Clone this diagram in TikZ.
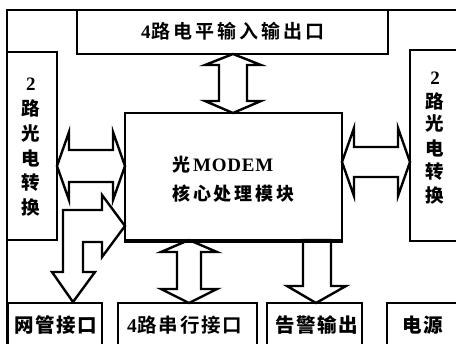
\documentclass[tikz,border=0pt]{standalone}
\usepackage{fontspec}
\setmainfont{Liberation Serif}
\newfontfamily\cjkA[LetterSpace=16]{Noto Sans CJK SC Black}
\newfontfamily\cjkB[LetterSpace=8]{Noto Sans CJK SC Black}
\newfontfamily\cjkV{Noto Sans CJK SC Black}
\usetikzlibrary{fit}
\begin{document}
\begin{tikzpicture}[x=1pt,y=-1pt,
  box/.style={draw,line width=2.6pt,inner sep=0pt},
  blk/.style={draw,line width=2.4pt,fill=white,line join=miter,miter limit=10},
  lbl/.style={inner sep=0pt,anchor=west},
  vch/.style={inner sep=0pt,font=\fontsize{18.5}{18.5}\selectfont\cjkV},
  vnum/.style={inner sep=0pt,font=\fontsize{19}{19}\selectfont\bfseries}]
\useasboundingbox (0,0) rectangle (456,344);
\fill[white] (0,0) rectangle (456,344);
% outer frame
\draw[line width=2.6pt] (7,352) -- (7,10) -- (462,10);
% boxes
\node[box,fit={(77,10) (388,54)}] (top) {};
\node[box,fit={(7,52) (57,240)}] (left) {};
\node[box,fit={(410,50) (470,241)}] (right) {};
\node[box,fit={(125,113) (342,240)}] (core) {};
\node[box,fit={(8,303) (102,360)}] (nm) {};
\node[box,fit={(118,303) (257,360)}] (ser) {};
\node[box,fit={(267,303) (362,360)}] (alm) {};
\node[box,fit={(387,303) (470,360)}] (pwr) {};
% arrows
% top double arrow
\draw[blk] (233,54) -- (261,65) -- (247,65) -- (247,101) -- (261,101) -- (233,113)
  -- (205,101) -- (219,101) -- (219,65) -- (205,65) -- cycle;
% left double arrow
\draw[blk] (57,166) -- (69,132) -- (69,150) -- (113,150) -- (113,132) -- (125,166)
  -- (113,200) -- (113,182) -- (69,182) -- (69,200) -- cycle;
% right double arrow
\draw[blk] (342,162) -- (354,128) -- (354,147) -- (398,147) -- (398,128) -- (410,162)
  -- (398,196) -- (398,177) -- (354,177) -- (354,196) -- cycle;
% L arrow to network management
\draw[blk] (125,226) -- (102,195) -- (102,210) -- (63,210) -- (63,272) -- (52,272)
  -- (73,302) -- (95,272) -- (83,272) -- (83,242) -- (102,242) -- (102,257) -- cycle;
% serial double arrow
\draw[blk] (189,240) -- (217,252) -- (201,252) -- (201,289) -- (217,289) -- (189,303)
  -- (161,289) -- (177,289) -- (177,252) -- (161,252) -- cycle;
% alarm single arrow
\draw[blk] (303,240) -- (331,240) -- (331,286) -- (346,286) -- (316,303) -- (287,286)
  -- (303,286) -- cycle;
\draw[line width=2.6pt] (core.south west) -- (core.south east);
% texts
\node[lbl] (ttop) at (141,31) {\fontsize{19}{19}\selectfont\bfseries 4\hspace{1pt}\cjkA 路电平输入输出口};
\node[lbl] (tc1) at (172,165) {\fontsize{18}{18}\selectfont\cjkA 光\hspace{3pt}{\rmfamily\bfseries\fontsize{19}{19}\selectfont\addfontfeature{LetterSpace=4}MODEM}};
\node[lbl] (tc2) at (172,194) {\fontsize{18}{18}\selectfont\cjkA 核心处理模块};
\node[lbl] (tnm) at (14,325) {\fontsize{19.5}{19.5}\selectfont\cjkB 网管接口};
\node[lbl] (tser) at (127,325) {\fontsize{19.5}{19.5}\selectfont\bfseries 4\hspace{1pt}\cjkB 路串行接口};
\node[lbl] (talm) at (275,325) {\fontsize{19.5}{19.5}\selectfont\cjkB 告警输出};
\node[lbl] (tpwr) at (402,325) {\fontsize{19.5}{19.5}\selectfont\cjkB 电源};
% vertical texts
\node[vnum] (l1) at (31,84) {2};
\node[vch] (l2) at (31,108) {路};
\node[vch] (l3) at (31,133) {光};
\node[vch] (l4) at (31,158) {电};
\node[vch] (l5) at (31,183) {转};
\node[vch] (l6) at (31,208) {换};
\node[vnum] (r1) at (435,78) {2};
\node[vch] (r2) at (435,101) {路};
\node[vch] (r3) at (435,123) {光};
\node[vch] (r4) at (435,148) {电};
\node[vch] (r5) at (435,172) {转};
\node[vch] (r6) at (435,196) {换};
\end{tikzpicture}
\end{document}
